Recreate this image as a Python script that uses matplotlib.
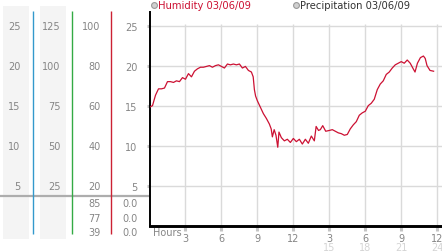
import matplotlib
matplotlib.use('Agg')
import matplotlib.pyplot as plt
from matplotlib.patches import Rectangle
from matplotlib.transforms import blended_transform_factory

# humidity trace (hours since midnight)
hours = [0.0, 0.25, 0.5, 0.75, 1.0, 1.25, 1.5, 1.75, 2.0, 2.25, 2.5, 2.75, 3.0, 3.25, 3.5, 3.75,
         4.0, 4.25, 4.5, 4.75, 5.0, 5.25, 5.5, 5.75, 6.0, 6.25, 6.5, 6.75, 7.0, 7.25, 7.5, 7.75,
         8.0, 8.25, 8.5, 8.65, 8.75, 8.85, 9.0, 9.25, 9.5, 9.75, 10.0, 10.15, 10.25, 10.4, 10.55,
         10.7, 10.8, 11.0, 11.25, 11.5, 11.75, 12.0, 12.25, 12.5, 12.75, 13.0, 13.25, 13.5, 13.75,
         13.9, 14.1, 14.25, 14.45, 14.7, 15.0, 15.25, 15.5, 15.75, 16.0, 16.25, 16.5, 16.75, 17.0,
         17.25, 17.5, 17.75, 18.0, 18.25, 18.5, 18.75, 19.0, 19.25, 19.5, 19.75, 20.0, 20.25, 20.5,
         20.75, 21.0, 21.25, 21.5, 21.75, 22.0, 22.15, 22.35, 22.6, 22.85, 23.0, 23.15, 23.4, 23.7]
humidity = [14.8, 15.0, 16.3, 17.1, 17.1, 17.2, 18.0, 18.0, 17.9, 18.1, 18.0, 18.5, 18.3, 19.0, 18.6, 19.3,
            19.6, 19.8, 19.8, 19.9, 20.0, 19.8, 20.0, 20.1, 19.9, 19.7, 20.2, 20.1, 20.2, 20.1, 20.2, 19.7,
            19.9, 19.4, 19.2, 18.6, 17.0, 16.2, 15.6, 14.8, 14.0, 13.4, 12.7, 12.1, 11.1, 12.0, 11.3,
            9.8, 11.7, 11.0, 10.6, 10.8, 10.4, 10.9, 10.5, 10.8, 10.2, 10.8, 10.3, 11.2, 10.6,
            12.4, 11.9, 12.0, 12.5, 11.8, 11.9, 12.0, 11.8, 11.6, 11.5, 11.3, 11.4, 12.1, 12.6,
            13.0, 13.8, 14.1, 14.3, 15.0, 15.3, 15.8, 17.0, 17.7, 18.1, 18.9, 19.2, 19.7, 20.1,
            20.3, 20.5, 20.3, 20.7, 20.3, 19.6, 19.2, 20.3, 21.0, 21.2, 20.9, 20.0, 19.4, 19.3]

y_ticks = [25, 20, 15, 10, 5]
x_ticks = [3, 6, 9, 12, 15, 18, 21, 24]
x_labels = ['3', '6', '9', '12', '3', '6', '9', '12']
x_labels2 = {15: '15', 18: '18', 21: '21', 24: '24'}

# left scale columns
col1 = ['25', '20', '15', '10', '5']
col2 = ['125', '100', '75', '50', '25']
col3 = ['100', '80', '60', '40', '20']
low_col3 = ['85', '77', '39']
low_col4 = ['0.0', '0.0', '0.0']

RED = '#cc1133'
GRAY_TXT = '#858585'

fig = plt.figure(figsize=(4.42, 2.53), dpi=100)

# background layer in pixel units
bg = fig.add_axes([0, 0, 1, 1], zorder=0)
bg.set_xlim(0, 442)
bg.set_ylim(253, 0)
bg.axis('off')

ax = fig.add_axes([149.5 / 442, 26.3 / 253, 292.5 / 442, 213.7 / 253], zorder=1)
ax.patch.set_alpha(0)
ax.set_xlim(0, 24.4)
ax.set_ylim(0, 26.7)

# grid
ax.hlines(y_ticks, 0, 24.4, color='#dadada', lw=1.0, zorder=1)
ax.vlines(x_ticks, 0, 25.2, color='#dadada', lw=1.0, zorder=1)

ax.plot(hours, humidity, color=RED, lw=0.9, zorder=3)

for s in ['top', 'right']:
    ax.spines[s].set_visible(False)
ax.spines['left'].set_linewidth(1.4)
ax.spines['bottom'].set_linewidth(2.1)

ax.set_yticks(y_ticks)
ax.set_yticklabels([str(v) for v in y_ticks])
ax.tick_params(axis='y', length=2.5, width=2.2, color='#c4c4c4', pad=6,
               labelsize=7, labelcolor=GRAY_TXT)
ax.set_xticks(x_ticks)
ax.set_xticklabels(x_labels)
ax.tick_params(axis='x', length=3.5, width=2.2, color='#c4c4c4', pad=1.5,
               labelsize=7, labelcolor=GRAY_TXT)

for h, lbl in x_labels2.items():
    ax.annotate(lbl, xy=(h, 0), xycoords=('data', 'axes fraction'), xytext=(0, -21),
                textcoords='offset pixels', ha='center', va='center', fontsize=7, color='#d4d4d4')
ax.annotate('Hours', xy=(0, 0), xycoords='axes fraction', xytext=(3.5, -6),
            textcoords='offset pixels', ha='left', va='center', fontsize=7, color=GRAY_TXT)

# left panel
bg.add_patch(Rectangle((2.5, 6.7), 26, 233.3, color='#f4f4f4', lw=0))
bg.add_patch(Rectangle((40, 6.7), 26, 233.3, color='#f4f4f4', lw=0))
bg.hlines(196.7, 0, 149, color='#adadad', lw=1.6)
bg.vlines([33.3, 72.3, 111], 12, 235, colors=['#3399cc', '#33aa44', '#cc2233'], lw=1.0)

tr = blended_transform_factory(bg.transData, ax.transData)
for i, v in enumerate(y_ticks):
    fig.text(20.5, v, col1[i], transform=tr, ha='right', va='center', fontsize=7, color=GRAY_TXT)
    fig.text(60.5, v, col2[i], transform=tr, ha='right', va='center', fontsize=7, color=GRAY_TXT)
    fig.text(100.5, v, col3[i], transform=tr, ha='right', va='center', fontsize=7, color=GRAY_TXT)
for i, y in enumerate([204, 218.7, 232.7]):
    bg.text(100.5, y, low_col3[i], ha='right', va='center', fontsize=7, color=GRAY_TXT)
    bg.text(138, y, low_col4[i], ha='right', va='center', fontsize=7, color=GRAY_TXT)

# legend line at the top
bg.plot([153.5, 295.5], [6, 6], ls='none', marker='o', ms=4.2, mfc='#d0d0d0', mec='#999999', mew=0.8)
bg.text(157.5, 6, 'Humidity 03/06/09', ha='left', va='center', fontsize=7.2, color=RED)
bg.text(299.5, 6, 'Precipitation 03/06/09', ha='left', va='center', fontsize=7.2, color='#333333')

fig.savefig('out.png', dpi=100)
